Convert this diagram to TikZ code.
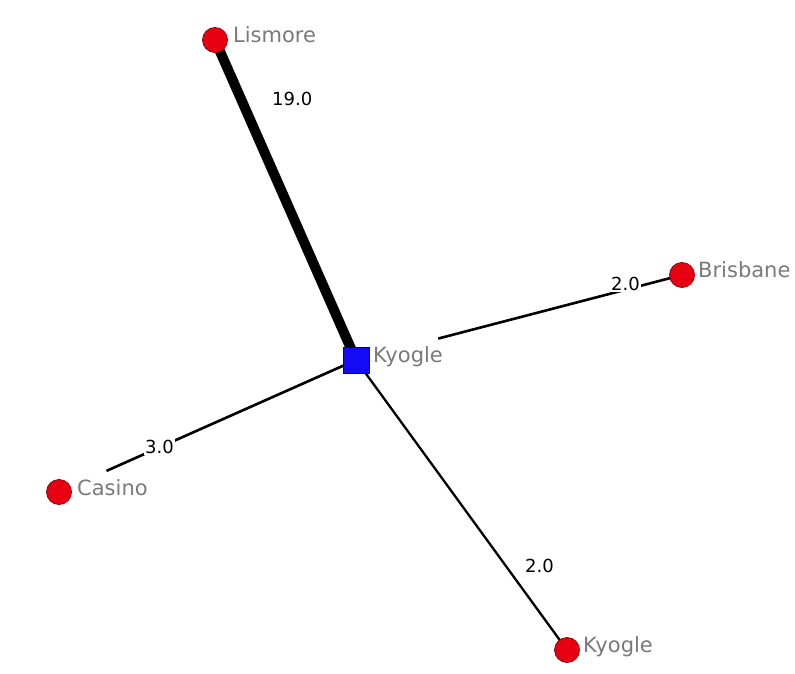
\documentclass[tikz,border=0pt]{standalone}
\usepackage{fontspec}
\setmainfont{DejaVu Sans}
\definecolor{nodered}{RGB}{232,0,18}
\definecolor{nodeborder}{RGB}{150,0,10}
\definecolor{hubblue}{RGB}{20,10,245}
\definecolor{hubborder}{RGB}{0,0,120}
\definecolor{labelgray}{RGB}{122,122,122}
\begin{document}
\begin{tikzpicture}[x=1pt,y=-1pt,
  city/.style={circle, fill=nodered, draw=nodeborder, line width=0.8pt, minimum size=25pt, inner sep=0pt},
  hub/.style={rectangle, fill=hubblue, draw=hubborder, line width=0.8pt, minimum size=26pt, inner sep=0pt},
  citylabel/.style={anchor=base west, inner sep=0pt, text=labelgray, font=\fontsize{21}{25}\selectfont},
  weight/.style={anchor=base west, inner sep=1.5pt, fill=white, text=black, font=\fontsize{18}{22}\selectfont},
  edge/.style={draw=black, line width=2.6pt}
]
\useasboundingbox (0,0) rectangle (795,674);
\fill[white] (0,0) rectangle (795,674);

% node positions
\coordinate (plis) at (215,40);
\coordinate (phub) at (356,360);
\coordinate (pbri) at (682,275);
\coordinate (pcas) at (59,492);
\coordinate (pkyo) at (567,650);

% edges
\draw[edge, line width=10pt] (plis) -- (phub);
\draw[edge, shorten <=85pt] (phub) -- (pbri);
\draw[edge, shorten >=52pt] (phub) -- (pcas);
\draw[edge, line width=2.3pt] (phub) -- (pkyo);

% edge weights
\node[weight] (w1) at (270.5,106) {19.0};
\node[weight] (w2) at (609.5,290) {2.0};
\node[weight] (w3) at (143.5,453) {3.0};
\node[weight] (w4) at (523.5,572) {2.0};

% nodes
\node[city] (lis) at (plis) {};
\node[hub] (hub) at (phub) {};
\node[city] (bri) at (pbri) {};
\node[city] (cas) at (pcas) {};
\node[city] (kyo) at (pkyo) {};

% labels
\node[citylabel] (llis) at (233,43) {Lismore};
\node[citylabel] (lhub) at (373,362) {Kyogle};
\node[citylabel] (lbri) at (698,277) {Brisbane};
\node[citylabel] (lcas) at (77,495) {Casino};
\node[citylabel] (lkyo) at (583,652) {Kyogle};
\end{tikzpicture}
\end{document}
